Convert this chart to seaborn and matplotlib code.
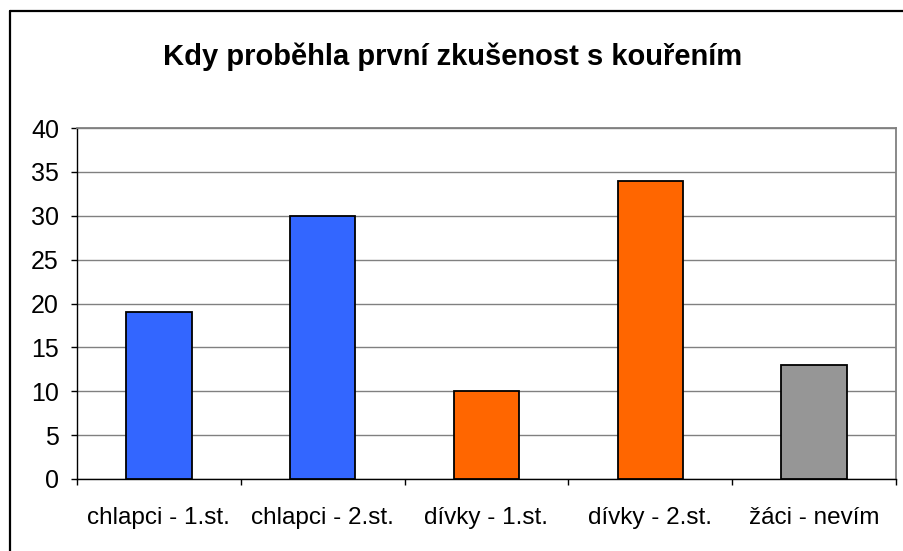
import seaborn as sns
import matplotlib.pyplot as plt
import pandas as pd
from matplotlib.lines import Line2D

categories = ["chlapci - 1.st.", "chlapci - 2.st.", "dívky - 1.st.", "dívky - 2.st.", "žáci - nevím"]
values = [19, 30, 10, 34, 13]
colors = ["#3366FF", "#3366FF", "#FF6600", "#FF6600", "#969696"]
yticks = [0, 5, 10, 15, 20, 25, 30, 35, 40]
title = "Kdy proběhla první zkušenost s kouřením"

sns.set_style("white")
plt.rcParams['font.family'] = ['Liberation Sans', 'DejaVu Sans']
plt.rcParams['text.color'] = 'black'
plt.rcParams['xtick.color'] = 'black'
plt.rcParams['ytick.color'] = 'black'

df = pd.DataFrame({"kat": categories, "pocet": values})

fig = plt.figure(figsize=(9.04, 5.51), dpi=100)
ax = fig.add_axes([77/904, 1 - 479/551, (896 - 77)/904, (479 - 128)/551])

sns.barplot(data=df, x="kat", y="pocet", hue="kat", palette=colors, legend=False,
            saturation=1, width=0.4, edgecolor="black", linewidth=1.3, ax=ax, zorder=3)

ax.set_ylim(0, 40)
ax.set_xlim(-0.5, len(categories) - 0.5)
ax.set_yticks(yticks)
ax.yaxis.grid(True, color="#808080", linewidth=1, zorder=0)
ax.set_axisbelow(True)

# x ticks sit on category borders, labels in between
ax.set_xticks([i - 0.5 for i in range(len(categories) + 1)])
ax.set_xticklabels([])
ax.set_xticks(range(len(categories)), minor=True)
ax.set_xticklabels(categories, minor=True, fontsize=17.5)
ax.tick_params(axis="x", which="major", direction="out", length=4, width=1, color="black", bottom=True)
ax.tick_params(axis="x", which="minor", length=0, pad=20)
ax.tick_params(axis="y", direction="out", length=4, width=1, color="black", left=True, labelsize=18, pad=9)
ax.set_xlabel("")
ax.set_ylabel("")

for side in ["left", "bottom"]:
    ax.spines[side].set_color("black")
    ax.spines[side].set_linewidth(1)
for side in ["top", "right"]:
    ax.spines[side].set_visible(True)
    ax.spines[side].set_color("#808080")
    ax.spines[side].set_linewidth(1.3)

fig.text(453/904, 1 - 57/551, title, ha="center", va="center", fontsize=21, fontweight="bold")

# outer chart frame (only top and left edges fall in the picture)
fig.add_artist(Line2D([10/904, 1], [1 - 11/551, 1 - 11/551], transform=fig.transFigure, color="black", linewidth=1.6))
fig.add_artist(Line2D([10/904, 10/904], [0, 1 - 11/551], transform=fig.transFigure, color="black", linewidth=1.6))

fig.savefig("out.png", dpi=100)
